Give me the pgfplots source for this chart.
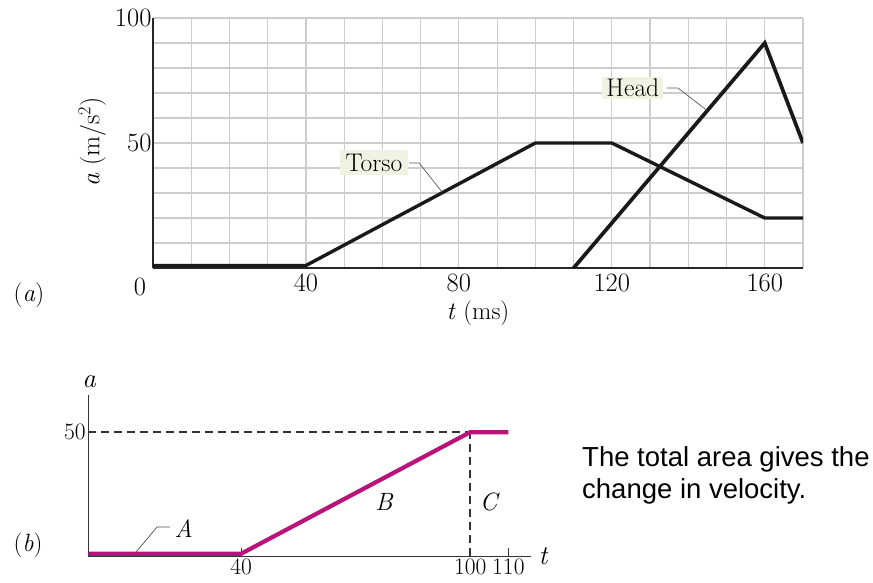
\documentclass[border=0pt]{standalone}
\usepackage{fontspec}
\newfontfamily\sansf{Liberation Sans}
\usepackage{pgfplots}
\pgfplotsset{compat=1.18}
\definecolor{mag}{RGB}{185,18,122}
\definecolor{labbg}{RGB}{241,243,226}
\definecolor{gridc}{RGB}{205,205,205}
\newcommand{\fs}[1]{\fontsize{#1}{#1}\selectfont}
\begin{document}
\begin{tikzpicture}
\path (0,0) rectangle (873pt,-582pt);
% ---------- (a) ----------
\begin{axis}[
  at={(153pt,-268pt)}, anchor=south west,
  scale only axis, width=650pt, height=250pt,
  xmin=0, xmax=170, ymin=0, ymax=100,
  axis x line*=bottom, axis y line*=left,
  axis line style={-, line width=1.8pt, black!85},
  xtick={0,10,...,170},
  xticklabels={,,,,40,,,,80,,,,120,,,,160,},
  ytick={0,10,...,100},
  yticklabels={,,,,,50,,,,,100},
  grid=major,
  major grid style={gridc, line width=1.2pt},
  major tick length=0pt,
  tick label style={font=\fs{26.5}},
  xticklabel style={yshift=-2pt},
  yticklabel style={xshift=2pt},
]
\addplot[black!90, line width=3.4pt] coordinates {(0,1) (40,1) (100,50) (120,50) (160,20) (170,20)};
\addplot[black!90, line width=3.7pt] coordinates {(110,0) (160,90) (170,50)};
\draw[black!65, line width=0.7pt] (axis cs:67.0,42.0) -- (axis cs:69.6,42.0) -- (axis cs:75.6,30.4);
\node[fill=labbg, inner xsep=6pt, inner ysep=4pt, font=\fs{25.5}] at (axis cs:57.8,42.2) {Torso};
\draw[black!65, line width=0.7pt] (axis cs:134.4,72.0) -- (axis cs:137.3,72.0) -- (axis cs:144.9,63.0);
\node[fill=labbg, inner xsep=4pt, inner ysep=2pt, font=\fs{25.5}] at (axis cs:125.5,72.0) {Head};
\end{axis}
\node[font=\fs{26.5}, inner sep=0pt] at (140pt,-287pt) {0};
\node[font=\fs{25}, inner sep=0pt] at (478pt,-313pt) {\textit{t} (ms)};
\node[font=\fs{26}, inner sep=0pt, rotate=90] at (92pt,-142pt) {\textit{a} (m/s\textsuperscript{2})};
\node[font=\fs{25}, inner sep=0pt] at (29pt,-295pt) {(\textit{a})};
% ---------- (b) ----------
\begin{axis}[
  at={(88.3pt,-556pt)}, anchor=south west,
  scale only axis, width=443pt, height=161pt,
  xmin=0, xmax=116, ymin=0, ymax=65,
  axis x line*=bottom, axis y line*=left,
  axis line style={-, line width=1pt, black!80},
  xtick={40,100,110}, ytick={50},
  tick align=inside, major tick length=8pt,
  xtick style={black!80, line width=1pt},
  ytick style={draw=none},
  tick label style={font=\fs{23.5}},
  /pgf/number format/assume math mode=true,
  xticklabel style={yshift=1pt},
  yticklabel style={xshift=1pt},
]
\addplot[black!80, line width=1.4pt, dash pattern=on 8pt off 5pt] coordinates {(0,50) (100,50)};
\addplot[black!80, line width=1.4pt, dash pattern=on 8pt off 5pt] coordinates {(100,0) (100,50)};
\addplot[mag, line width=4.2pt] coordinates {(0,0.9) (40,0.9) (100,50) (110,50)};
\draw[black!70, line width=0.7pt] (axis cs:12.5,1.6) -- (axis cs:18,11.7) -- (axis cs:21.4,11.7);
\node[font=\itshape\fs{25}, inner sep=0pt] at (axis cs:25.0,11.2) {A};
\node[font=\itshape\fs{25}, inner sep=0pt] at (axis cs:77.4,21.8) {B};
\node[font=\itshape\fs{25}, inner sep=0pt] at (axis cs:104.8,21.8) {C};
\end{axis}
\node[font=\itshape\fs{27}, inner sep=0pt] at (89pt,-382pt) {a};
\node[font=\itshape\fs{27}, inner sep=0pt] at (543pt,-556pt) {t};
\node[font=\fs{25}, inner sep=0pt] at (28pt,-545pt) {(\textit{b})};
\node[anchor=base west, inner sep=0pt, font=\sansf\fs{27.5}] at (582pt,-466pt) {The total area gives the};
\node[anchor=base west, inner sep=0pt, font=\sansf\fs{27.5}] at (582pt,-498pt) {change in velocity.};
\end{tikzpicture}
\end{document}
